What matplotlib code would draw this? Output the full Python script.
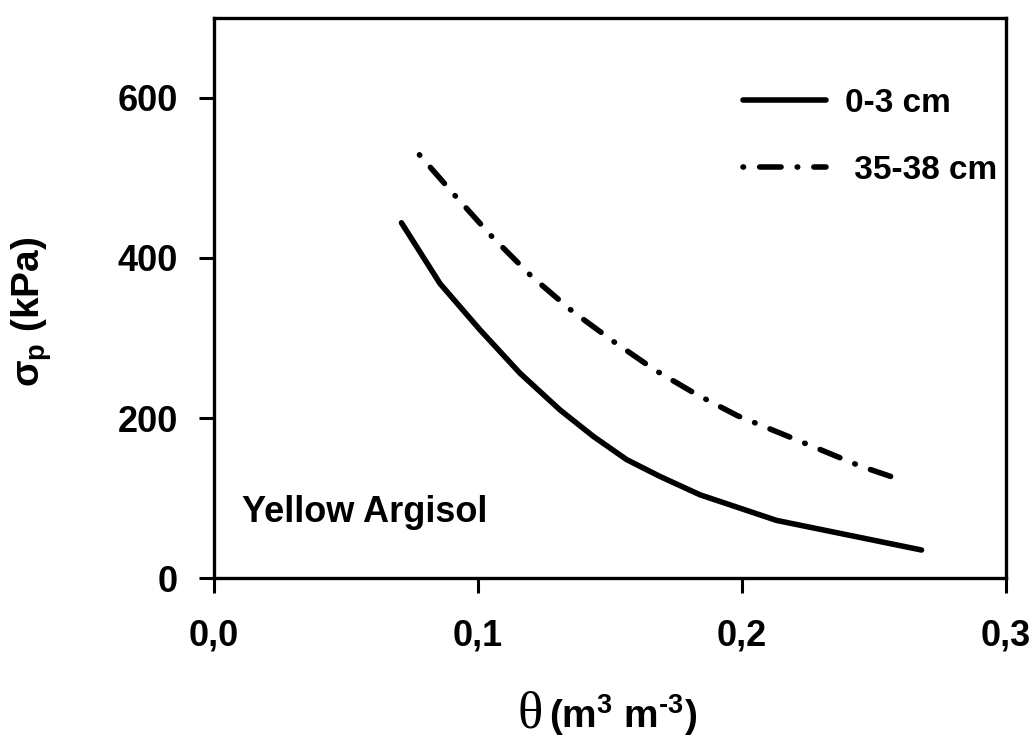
import matplotlib
matplotlib.use("Agg")
import matplotlib.pyplot as plt

plt.rcParams['font.family'] = ['Liberation Sans', 'DejaVu Sans']
plt.rcParams['font.weight'] = 'bold'
plt.rcParams['mathtext.fontset'] = 'custom'
plt.rcParams['mathtext.rm'] = 'Liberation Sans:bold'
plt.rcParams['mathtext.it'] = 'Liberation Sans:bold'
plt.rcParams['mathtext.bf'] = 'Liberation Sans:bold'

# values
theta_03 = [0.071, 0.0856, 0.1008, 0.1159, 0.1311, 0.1437, 0.1563, 0.1689, 0.1841, 0.2131, 0.268]
sigma_03 = [444, 368, 310, 256, 210, 177, 148, 127, 104, 72, 35]

theta_3538 = [0.0778, 0.0913, 0.1052, 0.1203, 0.1359, 0.1516, 0.167, 0.1825, 0.1982, 0.2138, 0.2293, 0.2447, 0.2563]
sigma_3538 = [529, 478, 427, 377, 333, 295, 260, 230, 203, 182, 161, 140, 127]

labels = ['0-3 cm', ' 35-38 cm']
xticks = [0.0, 0.1, 0.2, 0.3]
xticklabels = ['0,0', '0,1', '0,2', '0,3']
yticks = [0, 200, 400, 600]

fig = plt.figure(figsize=(10.34, 7.4), dpi=100)
ax = fig.add_axes([0.2070, 0.2189, 0.9729 - 0.2070, 0.9757 - 0.2189])

ax.plot(theta_03, sigma_03, color='black', lw=4.0, solid_capstyle='round',
        solid_joinstyle='round', label=labels[0])
ax.plot(theta_3538, sigma_3538, color='black', lw=4.0,
        linestyle=(0, (0.1, 2.9, 3.85, 2.9)), dash_capstyle='round',
        label=labels[1])

ax.set_xlim(0, 0.3)
ax.set_ylim(0, 700)
ax.set_xticks(xticks)
ax.set_xticklabels(xticklabels)
ax.set_yticks(yticks)

for s in ax.spines.values():
    s.set_linewidth(2.4)
ax.tick_params(axis='both', direction='out', length=10.8, width=2.2, labelsize=26)
ax.tick_params(axis='x', pad=18)
ax.tick_params(axis='y', pad=15)

ax.legend(loc='upper left', bbox_to_anchor=(0.668, 0.875), frameon=False,
          fontsize=24, borderpad=0, borderaxespad=0, handlelength=2.5,
          handletextpad=0.57, labelspacing=1.08)

ax.text(0.035, 0.1, 'Yellow Argisol', transform=ax.transAxes, fontsize=26,
        fontweight='bold', ha='left', va='baseline')

# axis labels
fig.text(543 / 1034, 1 - 728 / 740, '\u03b8', family='Liberation Serif',
         fontweight='normal', fontsize=38, ha='right', va='baseline')
fig.text(549 / 1034, 1 - 728 / 740, '(m$^{3}$ m$^{\u20103}$)', fontsize=28,
         fontweight='bold', ha='left', va='baseline')
fig.text(32 / 1034, 1 - 312 / 740, r'$\sigma_{p}$ (kPa)', fontsize=28,
         fontweight='bold', rotation=90, ha='center', va='center')

fig.savefig('out.png', dpi=100)
